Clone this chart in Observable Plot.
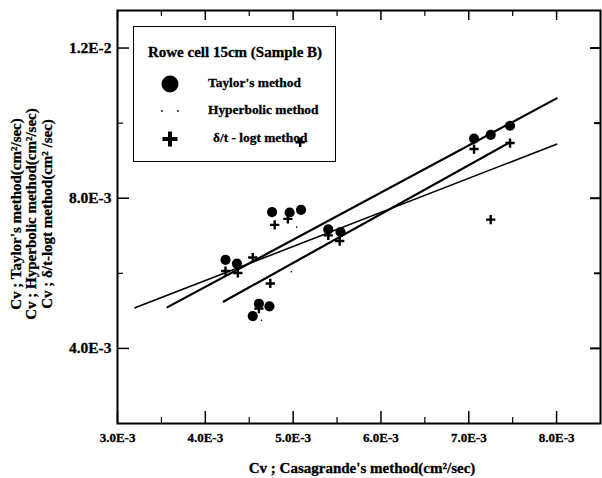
<!DOCTYPE html>
<html><head><meta charset="utf-8">
<script src="https://cdn.jsdelivr.net/npm/d3@7"></script>
<script src="https://cdn.jsdelivr.net/npm/@observablehq/plot@0.6"></script>
<style>
body{margin:0;background:#fff;}
#wrap{position:relative;width:602px;height:478px;}
#legend{position:absolute;left:133px;top:26px;width:201px;height:134px;border:1.5px solid #000;}
#legend svg{position:absolute;left:0;top:0;overflow:visible;}
</style></head><body><div id="wrap"></div>
<script>
// Taylor's method (circles)
const taylorX = [4.23e-3, 4.36e-3, 4.76e-3, 4.96e-3, 5.09e-3, 5.40e-3, 5.54e-3, 4.61e-3, 4.73e-3, 4.54e-3, 7.06e-3, 7.25e-3, 7.47e-3];
const taylorY = [6.36e-3, 6.26e-3, 7.63e-3, 7.62e-3, 7.69e-3, 7.17e-3, 7.10e-3, 5.19e-3, 5.12e-3, 4.86e-3, 9.59e-3, 9.69e-3, 9.93e-3];
// Hyperbolic method (small dots)
const hyperX = [5.04e-3, 4.98e-3, 4.64e-3];
const hyperY = [7.23e-3, 6.04e-3, 4.75e-3];
// δ/t - logt method (crosses)
const deltaX = [4.23e-3, 4.37e-3, 4.54e-3, 4.79e-3, 4.94e-3, 4.74e-3, 4.61e-3, 5.40e-3, 5.53e-3, 5.08e-3, 7.06e-3, 7.47e-3, 7.25e-3];
const deltaY = [6.06e-3, 6.01e-3, 6.42e-3, 7.29e-3, 7.45e-3, 5.73e-3, 5.06e-3, 7.01e-3, 6.86e-3, 9.49e-3, 9.31e-3, 9.47e-3, 7.43e-3];
// fitted lines (end points)
const taylorFitX = [3.57e-3, 8.0e-3], taylorFitY = [5.10e-3, 10.66e-3];
const hyperFitX = [3.20e-3, 8.0e-3], hyperFitY = [5.08e-3, 9.44e-3];
const deltaFitX = [4.21e-3, 7.47e-3], deltaFitY = [5.25e-3, 9.49e-3];
// ticks
const xMajor = [3e-3, 4e-3, 5e-3, 6e-3, 7e-3, 8e-3];
const xLabels = ["3.0E-3", "4.0E-3", "5.0E-3", "6.0E-3", "7.0E-3", "8.0E-3"];
const xMinor = [3.5e-3, 4.5e-3, 5.5e-3, 6.5e-3, 7.5e-3];
const yMajor = [4e-3, 8e-3, 12e-3];
const yLabels = ["4.0E-3", "8.0E-3", "1.2E-2"];
const yMinor = [6e-3, 10e-3];
const xTitle = "Cv ; Casagrande's method(cm²/sec)";
const yTitle = ["Cv ; Taylor's method(cm²/sec)", "Cv ; Hyperbolic method(cm²/sec)", "Cv ; δ/t-logt method(cm² /sec)"];
const legendTitle = "Rowe cell 15cm (Sample B)";
const legendNames = ["Taylor's method", "Hyperbolic method", "δ/t - logt method"];

const W = 602, H = 478, mL = 117, mR = 2, mT = 10, mB = 55;
const fW = W - mL - mR, fH = H - mT - mB;
const pts = (xs, ys) => xs.map((x, i) => ({x, y: ys[i]}));
const serif = "'Liberation Serif', 'DejaVu Serif', serif";
const heavy = {fontWeight: "bold", stroke: "black", strokeWidth: 0.3, fill: "black"};

const chart = Plot.plot({
  width: W, height: H,
  marginLeft: mL, marginRight: mR, marginTop: mT, marginBottom: mB,
  style: `font-family: ${serif}; font-weight: bold; background: white; overflow: visible;`,
  x: {domain: [3e-3, 8.5e-3], axis: null},
  y: {domain: [2e-3, 13e-3], axis: null},
  marks: [
    // tick labels
    Plot.text(xMajor, {x: d => d, frameAnchor: "bottom", dy: 14, text: (d, i) => xLabels[i], fontSize: 13, textAnchor: "middle", lineAnchor: "middle", ...heavy}),
    Plot.text(yMajor, {y: d => d, frameAnchor: "left", dx: -6, text: (d, i) => yLabels[i], fontSize: 15.5, textAnchor: "end", lineAnchor: "middle", ...heavy}),
    // inward ticks
    Plot.tickX(xMajor, {x: d => d, insetTop: fH - 12, strokeWidth: 1.5}),
    Plot.tickX(xMinor, {x: d => d, insetTop: fH - 6, strokeWidth: 1.2}),
    Plot.tickX(xMajor, {x: d => d, insetBottom: fH - 10, strokeWidth: 1.5}),
    Plot.tickX(xMinor, {x: d => d, insetBottom: fH - 6, strokeWidth: 1.2}),
    Plot.tickY(yMajor, {y: d => d, insetRight: fW - 12, strokeWidth: 1.5}),
    Plot.tickY(yMinor, {y: d => d, insetRight: fW - 6, strokeWidth: 1.2}),
    Plot.tickY(yMajor, {y: d => d, insetLeft: fW - 10, strokeWidth: 2}),
    Plot.tickY(yMinor, {y: d => d, insetLeft: fW - 6, strokeWidth: 2}),
    Plot.frame({stroke: "black", strokeWidth: 2}),
    // fit lines
    Plot.line(pts(taylorFitX, taylorFitY), {x: "x", y: "y", stroke: "black", strokeWidth: 2.2}),
    Plot.line(pts(hyperFitX, hyperFitY), {x: "x", y: "y", stroke: "black", strokeWidth: 1.6}),
    Plot.line(pts(deltaFitX, deltaFitY), {x: "x", y: "y", stroke: "black", strokeWidth: 2.2}),
    // points
    Plot.dot(pts(taylorX, taylorY), {x: "x", y: "y", r: 5.1, fill: "black", stroke: "none"}),
    Plot.dot(pts(hyperX, hyperY), {x: "x", y: "y", r: 0.8, fill: "black", stroke: "none"}),
    Plot.dot(pts(deltaX, deltaY), {x: "x", y: "y", symbol: "plus", r: 3.1, stroke: "black", strokeWidth: 2.4}),
    // titles
    Plot.text([xTitle], {frameAnchor: "bottom", dx: 3, dy: 45, text: d => d, fontSize: 15, textAnchor: "middle", lineAnchor: "middle", ...heavy}),
    Plot.text([yTitle.join("\n")], {frameAnchor: "left", dx: -86, dy: -3, rotate: -90, text: d => d, fontSize: 15, textAnchor: "middle", lineAnchor: "middle", lineHeight: 1.03, ...heavy})
  ]
});

const wrap = document.getElementById("wrap");
wrap.appendChild(chart);

// legend box
const leg = document.createElement("div");
leg.id = "legend";
wrap.appendChild(leg);
const lsvg = d3.create("svg").attr("width", 201).attr("height", 134)
  .style("font-family", serif).style("font-weight", "bold");
lsvg.append("text").attr("x", 101).attr("y", 27).attr("text-anchor", "middle")
  .attr("dominant-baseline", "middle").attr("stroke", "black").attr("stroke-width", 0.3)
  .style("font-size", "15px").text(legendTitle);
const rowY = [57, 84, 112];
lsvg.append("circle").attr("cx", 36).attr("cy", rowY[0]).attr("r", 8.5).attr("fill", "black");
lsvg.append("circle").attr("cx", 28).attr("cy", rowY[1]).attr("r", 0.9).attr("fill", "black");
lsvg.append("circle").attr("cx", 44).attr("cy", rowY[1]).attr("r", 0.9).attr("fill", "black");
lsvg.append("path").attr("d", d3.symbol(d3.symbolPlus, 75)()).attr("transform", `translate(36,${rowY[2]})`)
  .attr("stroke", "black").attr("stroke-width", 4).attr("fill", "none");
const textX = [74, 74, 79];
legendNames.forEach((n, i) => {
  lsvg.append("text").attr("x", textX[i]).attr("y", rowY[i]).attr("dominant-baseline", "middle")
    .attr("stroke", "black").attr("stroke-width", 0.3)
    .style("font-size", "13.4px").text(n);
});
leg.appendChild(lsvg.node());
</script>
</body></html>
